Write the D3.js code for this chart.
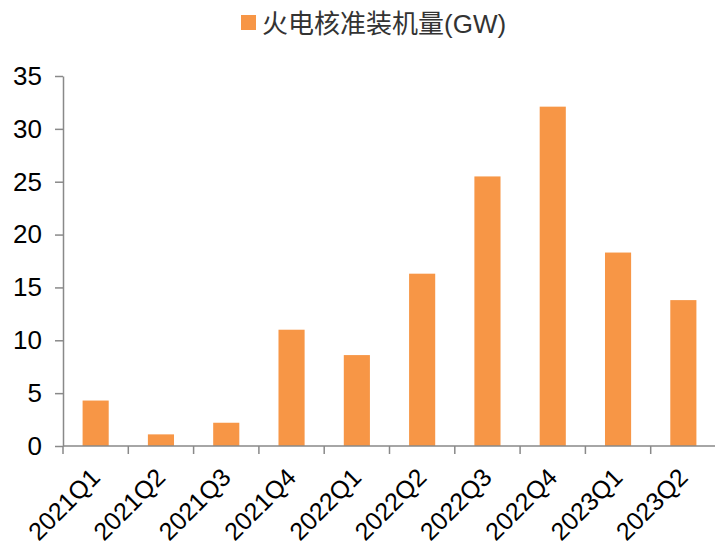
<!DOCTYPE html>
<html>
<head>
<meta charset="utf-8">
<script src="https://cdn.jsdelivr.net/npm/d3@7"></script>
<style>
  html, body { margin: 0; padding: 0; background: #fff; }
  svg { display: block; font-family: "Liberation Sans", Arial, sans-serif; }
</style>
</head>
<body>
<svg id="chart" width="715" height="545"></svg>
<script>
// Quarterly approved coal-fired capacity, GW
const quarters = ["2021Q1","2021Q2","2021Q3","2021Q4","2022Q1","2022Q2","2022Q3","2022Q4","2023Q1","2023Q2"];
const capacityGW = [4.3, 1.1, 2.2, 11.0, 8.6, 16.3, 25.5, 32.1, 18.3, 13.8];
const yTicks = [0, 5, 10, 15, 20, 25, 30, 35];
const seriesName = "火电核准装机量(GW)";

const svg = d3.select("#chart");
const plotLeft = 63, plotRight = 716, plotTop = 76, plotBottom = 446;
const barColor = "#F79646";
const axisColor = "#898989";

const x = d3.scaleBand().domain(quarters).range([plotLeft, plotRight]).paddingInner(0.6).paddingOuter(0.3);
const y = d3.scaleLinear().domain([0, 35]).range([plotBottom, plotTop]);

// Bars
svg.append("g").selectAll("rect")
  .data(quarters.map((q, i) => ({ q, v: capacityGW[i] })))
  .join("rect")
  .attr("x", d => x(d.q))
  .attr("y", d => y(d.v))
  .attr("width", x.bandwidth())
  .attr("height", d => y(0) - y(d.v))
  .attr("fill", barColor);

// Y axis
const yAxis = svg.append("g")
  .attr("transform", `translate(${plotLeft},0)`)
  .call(d3.axisLeft(y).tickValues(yTicks).tickSize(8).tickPadding(13).tickSizeOuter(0));
yAxis.select(".domain").attr("stroke", axisColor).attr("stroke-width", 1.5);
yAxis.selectAll(".tick line").attr("stroke", axisColor).attr("stroke-width", 1.5);
yAxis.selectAll(".tick text")
  .attr("font-size", 26).attr("fill", "#000")
  .attr("font-family", "Liberation Sans, Arial, sans-serif");

// X axis: ticks sit on the band boundaries
const step = x.step();
const xAxisG = svg.append("g").attr("transform", `translate(0,${plotBottom})`);
xAxisG.append("line")
  .attr("x1", plotLeft).attr("x2", 715).attr("y1", 0).attr("y2", 0)
  .attr("stroke", axisColor).attr("stroke-width", 1.5);
const bounds = d3.range(quarters.length).map(i => plotLeft + i * step);
xAxisG.selectAll("line.tk")
  .data(bounds)
  .join("line")
  .attr("class", "tk")
  .attr("x1", d => d).attr("x2", d => d)
  .attr("y1", 0).attr("y2", 8)
  .attr("stroke", axisColor).attr("stroke-width", 1.5);
xAxisG.selectAll("text")
  .data(quarters)
  .join("text")
  .attr("transform", d => `translate(${x(d) + x.bandwidth() / 2 + 6},${33}) rotate(-45)`)
  .attr("text-anchor", "end")
  .attr("font-size", 25)
  .attr("fill", "#000")
  .text(d => d);

// Legend
const legend = svg.append("g").attr("transform", "translate(241,15)");
legend.append("rect").attr("width", 15).attr("height", 15).attr("fill", barColor);
legend.append("text")
  .attr("x", 21).attr("y", 9).attr("dy", "0.36em")
  .attr("font-size", 26)
  .attr("font-family", "Liberation Sans, Noto Sans CJK SC, sans-serif")
  .attr("fill", "#333")
  .text(seriesName);
</script>
</body>
</html>
